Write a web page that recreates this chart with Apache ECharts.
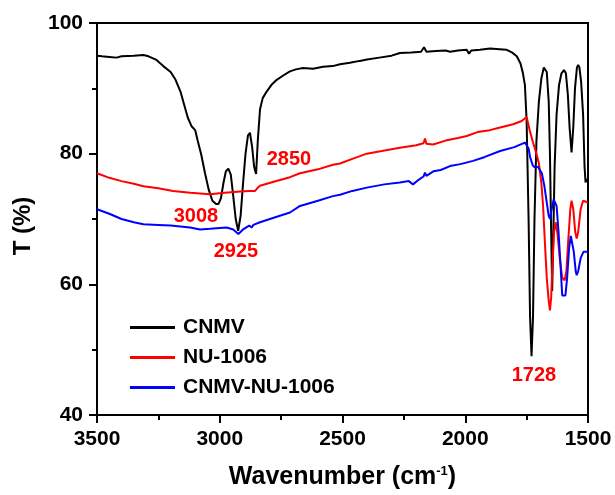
<!DOCTYPE html>
<html><head><meta charset="utf-8">
<script src="https://cdn.jsdelivr.net/npm/echarts@6/dist/echarts.min.js"></script>
<style>html,body{margin:0;padding:0;background:#fff}#c{width:615px;height:495px}</style>
</head><body><div id="c"></div>
<script>
const seriesNames = ['CNMV', 'NU-1006', 'CNMV-NU-1006'];
const xTicks = [3500, 3000, 2500, 2000, 1500];
const yTicks = [40, 60, 80, 100];

const cnmv = [[3500,95.0],[3480,94.9],[3450,94.8],[3420,94.7],[3400,94.9],[3350,95.0],[3311,95.1],[3290,94.9],[3260,94.4],[3230,93.4],[3200,92.5],[3180,91.3],[3160,89.5],[3145,87.5],[3130,85.5],[3115,84.2],[3100,83.6],[3090,82.0],[3075,79.8],[3060,77.0],[3045,74.5],[3030,72.8],[3015,72.3],[3005,72.3],[2995,73.2],[2985,75.5],[2975,77.3],[2965,77.7],[2955,76.8],[2945,73.5],[2935,70.0],[2925,68.2],[2915,70.5],[2905,75.5],[2895,80.0],[2885,82.8],[2877,83.2],[2868,81.0],[2860,78.0],[2852,76.9],[2845,82.0],[2836,86.8],[2825,88.5],[2809,89.5],[2790,90.5],[2768,91.3],[2740,92.0],[2714,92.6],[2690,92.9],[2661,93.1],[2620,93.0],[2579,93.3],[2540,93.4],[2510,93.7],[2470,93.9],[2430,94.2],[2400,94.4],[2350,94.7],[2300,95.0],[2266,95.4],[2220,95.5],[2180,95.6],[2168,96.3],[2164,96.4],[2158,95.6],[2120,95.7],[2080,95.8],[2062,95.6],[2030,95.8],[1994,95.9],[1985,95.3],[1975,95.8],[1940,95.9],[1899,96.1],[1860,96.0],[1831,95.9],[1810,95.5],[1790,94.9],[1775,93.8],[1765,92.3],[1757,90.5],[1750,85],[1742,70],[1736,55],[1730,49.0],[1724,55],[1718,70],[1710,82],[1700,88],[1690,91.5],[1680,93.2],[1675,93.4],[1668,92.5],[1660,88],[1655,80],[1650,68],[1646,59],[1642,66],[1636,78],[1628,86],[1618,90.5],[1608,92.3],[1598,92.8],[1590,92.3],[1582,89],[1575,84],[1567,80.2],[1560,84],[1553,90],[1545,93.2],[1540,93.6],[1535,93.2],[1528,91],[1520,86],[1514,78],[1510,75.6],[1505,76],[1500,76]];

const nu1006 = [[3500,77.0],[3450,76.3],[3400,75.8],[3350,75.4],[3311,75.0],[3250,74.7],[3190,74.3],[3120,74.0],[3040,73.8],[2980,74.0],[2917,74.2],[2880,74.3],[2856,74.3],[2845,74.8],[2836,75.1],[2780,75.7],[2714,76.4],[2673,77.0],[2600,77.6],[2539,78.3],[2510,78.5],[2460,79.2],[2401,80.0],[2340,80.4],[2266,80.9],[2200,81.3],[2170,81.6],[2164,82.3],[2158,81.5],[2131,81.4],[2080,82.0],[2030,82.4],[1994,82.7],[1950,83.3],[1900,83.6],[1858,84.0],[1805,84.5],[1770,85.0],[1750,85.6],[1737,83.5],[1724,81.7],[1710,80.0],[1700,78.5],[1690,75.5],[1683,72.0],[1675,66],[1668,61.0],[1660,57.5],[1655,56.0],[1650,58],[1645,63],[1638,68],[1632,69.5],[1625,68],[1615,64],[1605,61.0],[1595,60.6],[1588,62],[1580,67],[1572,71.5],[1567,72.8],[1560,71.5],[1552,68],[1546,67.0],[1540,68],[1530,71.5],[1520,72.8],[1512,73.0],[1505,72.6],[1500,72.5]];

const cnmvNu = [[3500,71.5],[3450,70.8],[3400,70.0],[3350,69.5],[3311,69.2],[3250,69.1],[3200,69.0],[3121,68.7],[3080,68.4],[3040,68.5],[2972,68.7],[2945,68.4],[2924,67.7],[2905,68.4],[2880,69.0],[2870,68.7],[2863,69.1],[2836,69.5],[2780,70.2],[2714,71.0],[2673,72.0],[2600,72.8],[2539,73.5],[2510,73.7],[2460,74.3],[2401,74.8],[2330,75.3],[2266,75.6],[2230,75.8],[2213,75.3],[2190,76.0],[2170,76.5],[2164,77.1],[2158,76.6],[2130,77.3],[2100,77.5],[2062,78.1],[2020,78.4],[1968,78.9],[1920,79.5],[1858,80.4],[1800,81.0],[1757,81.7],[1750,81.8],[1742,80.8],[1736,79.5],[1725,78.2],[1716,77.9],[1704,78.0],[1696,78.1],[1688,77],[1678,75.1],[1668,72.5],[1660,70.5],[1655,70.0],[1648,71.5],[1640,73.0],[1634,73.0],[1628,72.0],[1620,68],[1612,63],[1605,58.3],[1598,58.0],[1592,58.3],[1585,61],[1577,65.5],[1570,67.4],[1565,67.2],[1558,65],[1550,62],[1546,61.4],[1540,62],[1530,64],[1518,65],[1510,65.2],[1500,65]];

const peakLabels = ['3008', '2925', '2850', '1728'];
const peakLabelPos = [[3097, 70.4], [2934, 65.0], [2718, 79.1], [1720, 46.1]];

const FONT = 'Liberation Sans, Arial, sans-serif';
const colors = ['#000000', '#ff0000', '#0000ff'];
const chart = echarts.init(document.getElementById('c'), null, {renderer: 'canvas'});

const lineSeries = [cnmv, nu1006, cnmvNu].map((d, i) => ({
  name: seriesNames[i], type: 'line', data: d, symbol: 'none', showSymbol: false,
  smooth: false, lineStyle: {color: colors[i], width: 2}, itemStyle: {color: colors[i]},
  z: 2 + i, animation: false
}));

chart.setOption({
  animation: false,
  grid: {left: 97, right: 27, top: 23, bottom: 78, show: true, borderColor: '#000', borderWidth: 2, containLabel: false},
  legend: {
    data: seriesNames.map(n => ({name: n, icon: 'rect'})), orient: 'vertical', left: 130, top: 317,
    padding: 0, itemWidth: 45, itemHeight: 3, itemGap: 9,
    textStyle: {fontFamily: FONT, fontWeight: 'bold', fontSize: 21, color: '#000', padding: [0, 0, 0, 3]}
  },
  xAxis: {
    type: 'value', inverse: true, min: 1500, max: 3500, interval: 500,
    axisLine: {show: true, lineStyle: {color: '#000', width: 2}},
    axisTick: {show: true, length: 8, lineStyle: {color: '#000', width: 2}},
    minorTick: {show: true, splitNumber: 2, length: 5, lineStyle: {color: '#000', width: 2}},
    splitLine: {show: false},
    axisLabel: {margin: 14, fontFamily: FONT, fontWeight: 'bold', fontSize: 21, color: '#000',
      formatter: v => xTicks.includes(v) ? String(v) : ''},
    name: '{a|Wavenumber (cm}{b|-1}{a|)}', nameLocation: 'middle', nameGap: 50,
    nameTextStyle: {rich: {
      a: {fontFamily: FONT, fontWeight: 'bold', fontSize: 25, color: '#000'},
      b: {fontFamily: FONT, fontWeight: 'bold', fontSize: 13, color: '#000', verticalAlign: 'top', padding: [0, 0, 12, 0]}
    }}
  },
  yAxis: {
    type: 'value', min: 40, max: 100, interval: 20,
    axisLine: {show: true, lineStyle: {color: '#000', width: 2}},
    axisTick: {show: true, length: 8, lineStyle: {color: '#000', width: 2}},
    minorTick: {show: true, splitNumber: 2, length: 5, lineStyle: {color: '#000', width: 2}},
    splitLine: {show: false},
    axisLabel: {margin: 14, fontFamily: FONT, fontWeight: 'bold', fontSize: 21, color: '#000',
      formatter: v => yTicks.includes(v) ? String(v) : ''},
    name: 'T (%)', nameLocation: 'middle', nameGap: 62,
    nameTextStyle: {fontFamily: FONT, fontWeight: 'bold', fontSize: 24, color: '#000', padding: [0, 14, 0, 0]}
  },
  series: lineSeries.concat([{
    name: 'peaks', type: 'scatter', symbolSize: 0, z: 10,
    data: peakLabelPos.map((p, i) => ({value: p, name: peakLabels[i]})),
    label: {show: true, position: 'inside', formatter: p => p.name,
      fontFamily: FONT, fontWeight: 'bold', fontSize: 20, color: '#ff0000',
      textBorderWidth: 0, textBorderColor: 'transparent', opacity: 1},
    itemStyle: {opacity: 1},
    emphasis: {disabled: true}, silent: true
  }])
});
</script></body></html>
